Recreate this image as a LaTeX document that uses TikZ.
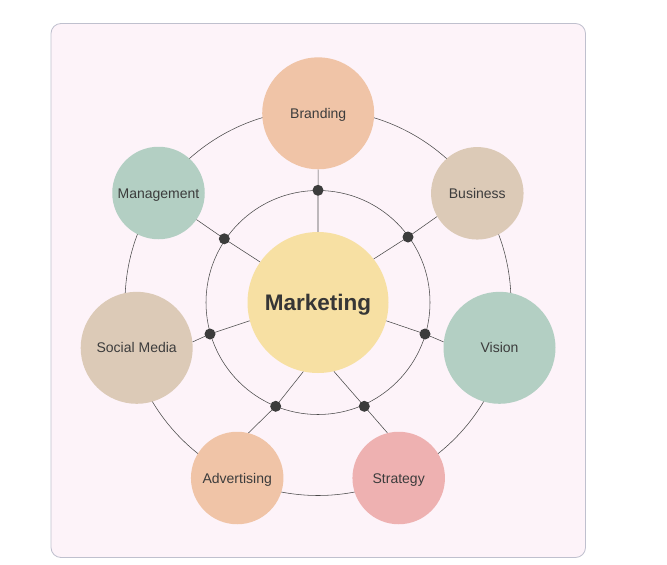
\documentclass[tikz,border=0pt]{standalone}
\usepackage{fontspec}
\setmainfont{Liberation Sans}
\definecolor{bgfill}{HTML}{FDF3F9}
\definecolor{bgline}{HTML}{BFC0CE}
\definecolor{peach}{HTML}{F0C4A7}
\definecolor{tan}{HTML}{DCCAB7}
\definecolor{sage}{HTML}{B3CFC3}
\definecolor{rose}{HTML}{EEB1B1}
\definecolor{gold}{HTML}{F7E0A3}
\definecolor{ink}{HTML}{3C3C3C}
\definecolor{wire}{HTML}{4A4A4A}
\tikzset{
  big/.style={circle,inner sep=0pt,minimum size=112pt,font=\fontsize{14}{16}\selectfont,text=ink,text height=10pt,text depth=0pt},
  small/.style={circle,inner sep=0pt,minimum size=92.5pt,font=\fontsize{14}{16}\selectfont,text=ink,text height=10pt,text depth=0pt},
  hub/.style={circle,inner sep=0pt,minimum size=141pt,fill=gold,font=\fontsize{22.5}{26}\selectfont\bfseries,text=ink!90!black,text height=16.1pt,text depth=0pt},
  ring/.style={draw=wire,line width=0.55pt},
  spoke/.style={draw=wire,line width=0.55pt},
  dot/.style={circle,fill=ink,inner sep=0pt,minimum size=11pt}
}
\begin{document}
\begin{tikzpicture}[x=1pt,y=-1pt]
\useasboundingbox (0,0) rectangle (667,565);
\draw[bgline,fill=bgfill,line width=0.8pt,rounded corners=10pt] (51,23.5) rectangle (585.5,557.5);
\coordinate (c) at (318,302.5);
\draw[ring] (c) circle[radius=112];
\draw[ring] (c) circle[radius=193];
\node[hub] (mk) at (c) {Marketing};
\node[big,fill=peach] (br) at (318.2,113.3) {Branding};
\node[small,fill=tan] (bu) at (477.3,193.3) {Business};
\node[big,fill=sage] (vi) at (499.5,347.8) {Vision};
\node[small,fill=rose] (st) at (398.7,478) {Strategy};
\node[small,fill=peach] (ad) at (237.2,478) {Advertising};
\node[big,fill=tan] (sm) at (136.7,347.8) {Social Media};
\node[small,fill=sage] (mg) at (158.5,193) {Management};
\foreach \n/\a/\x/\y/\b in {br/90/318/190.3/270, bu/38.6/408/237/210, vi/-15/425/334/174,
  st/-77/364.3/406.3/104, ad/-102/275.7/406.3/76, sm/-165/210/334/6, mg/145/224.3/238.8/-35}{
  \coordinate (p\n) at (\x,\y);
  \draw[spoke] (mk.\a) -- (p\n) -- (\n.\b);
  \node[dot] (d\n) at (p\n) {};
}
\end{tikzpicture}
\end{document}
